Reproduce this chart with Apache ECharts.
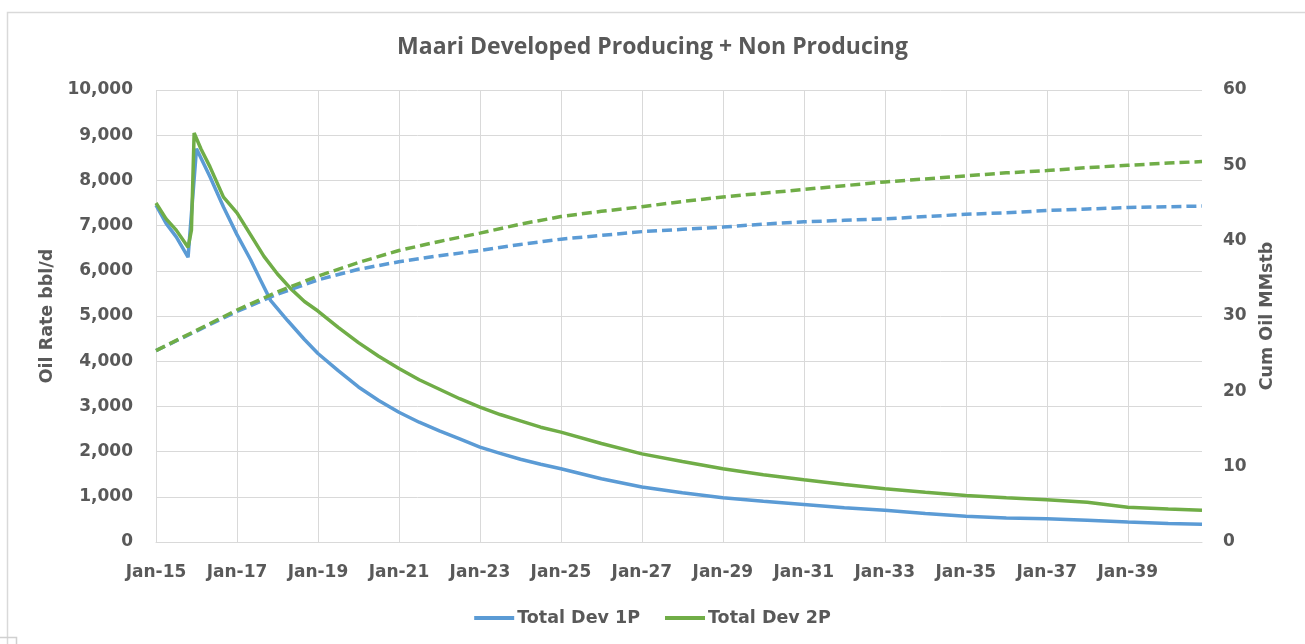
<!DOCTYPE html>
<html>
<head>
<meta charset="utf-8">
<script src="https://cdn.jsdelivr.net/npm/echarts@6/dist/echarts.min.js"></script>
<style>
html,body{margin:0;padding:0;background:#fff;}
#chart{width:1305px;height:644px;}
</style>
</head>
<body>
<div id="chart"></div>
<script>
// months since Jan-2015
const xTickLabels = ['Jan-15','Jan-17','Jan-19','Jan-21','Jan-23','Jan-25','Jan-27','Jan-29','Jan-31','Jan-33','Jan-35','Jan-37','Jan-39'];
const yLeftMax = 10000, yRightMax = 60;

const rate1PMonths = [0,3,6,9.5,12,16,20,24,28,31,34,39,44,48,54,60,66,72,78,84,90,96,102,108,114,120,132,144,156,168,180,192,204,216,228,240,252,264,276,288,300,310];
const rate1P =       [7450,7050,6750,6300,8700,8080,7410,6800,6250,5790,5340,4900,4480,4170,3790,3430,3130,2870,2650,2460,2280,2100,1960,1830,1720,1620,1400,1215,1090,980,900,830,760,700,630,570,530,515,480,440,410,390];

const rate2PMonths = [0,3,6,9.5,10.5,11.3,13.3,16,20,24,28,32,36,40,44,48,54,60,66,72,78,84,90,96,102,108,114,120,132,144,156,168,180,192,204,216,228,240,252,264,276,288,300,310];
const rate2P =       [7500,7150,6900,6520,6900,9050,8700,8300,7630,7280,6800,6320,5930,5600,5320,5110,4750,4410,4110,3840,3590,3380,3170,2985,2820,2680,2540,2430,2180,1950,1780,1620,1490,1375,1270,1180,1100,1030,980,935,880,770,730,700];

const cumMonths = [0,12,24,36,48,60,72,84,96,108,120,132,144,156,168,180,192,204,216,228,240,252,264,276,288,300,310];
const cum1P = [25.4,28.0,30.6,32.9,34.8,36.2,37.2,38.0,38.7,39.5,40.2,40.7,41.2,41.5,41.8,42.2,42.5,42.7,42.9,43.2,43.5,43.7,44.0,44.2,44.4,44.5,44.6];
const cum2P = [25.4,28.1,30.8,33.2,35.3,37.1,38.7,39.9,41.0,42.2,43.2,43.9,44.5,45.2,45.8,46.3,46.8,47.3,47.8,48.2,48.6,49.0,49.3,49.7,50.0,50.3,50.5];

const zip = (xs, ys) => xs.map((x, i) => [x, ys[i]]);

const BLUE = '#5b9bd5', GREEN = '#70ad47', TXT = '#595959', GRID = '#d9d9d9';
const FONT = 'DejaVu Sans';

const chart = echarts.init(document.getElementById('chart'), null, {renderer: 'canvas'});
chart.setOption({
  animation: false,
  backgroundColor: '#fff',
  title: {
    text: 'Maari Developed Producing + Non Producing',
    left: 'center', top: 31,
    textStyle: {fontFamily: 'Open Sans', fontSize: 23, fontWeight: 'bold', color: TXT}
  },
  legend: {
    bottom: 12, left: 'center',
    data: ['Total Dev 1P', 'Total Dev 2P'],
    icon: 'rect', itemWidth: 40, itemHeight: 4, itemGap: 25,
    textStyle: {fontFamily: FONT, fontSize: 17.5, fontWeight: 'bold', color: TXT, padding: [0,0,0,-2]}
  },
  grid: {left: 156, right: 103, top: 90, bottom: 102, containLabel: false},
  xAxis: {
    type: 'value', min: 0, max: 310, interval: 24,
    axisLine: {show: true, lineStyle: {color: GRID, width: 1}},
    axisTick: {show: false},
    axisLabel: {
      margin: 22, fontFamily: FONT, fontSize: 17, fontWeight: 'bold', color: TXT,
      showMaxLabel: false,
      formatter: v => (v % 24 === 0 ? (xTickLabels[v / 24] || '') : '')
    },
    splitLine: {show: true, showMaxLine: false, lineStyle: {color: GRID, width: 1}}
  },
  yAxis: [{
    type: 'value', min: 0, max: yLeftMax, interval: 1000,
    name: 'Oil Rate bbl/d', nameLocation: 'middle', nameGap: 100, nameRotate: 90,
    nameTextStyle: {fontFamily: FONT, fontSize: 17.5, fontWeight: 'bold', color: TXT},
    axisLine: {show: false}, axisTick: {show: false},
    axisLabel: {margin: 23, fontFamily: FONT, fontSize: 17, fontWeight: 'bold', color: TXT,
      formatter: v => v.toLocaleString('en-US')},
    splitLine: {show: true, lineStyle: {color: GRID, width: 1}}
  }, {
    type: 'value', min: 0, max: yRightMax, interval: 10, position: 'right',
    name: 'Cum Oil MMstb', nameLocation: 'middle', nameGap: 56, nameRotate: 90,
    nameTextStyle: {fontFamily: FONT, fontSize: 17.5, fontWeight: 'bold', color: TXT},
    axisLine: {show: false}, axisTick: {show: false},
    axisLabel: {margin: 21, fontFamily: FONT, fontSize: 17, fontWeight: 'bold', color: TXT},
    splitLine: {show: false}
  }],
  series: [
    {name: 'Total Dev 1P', type: 'line', yAxisIndex: 0, showSymbol: false, color: BLUE,
     lineStyle: {color: BLUE, width: 3.5}, data: zip(rate1PMonths, rate1P)},
    {name: 'Total Dev 2P', type: 'line', yAxisIndex: 0, showSymbol: false, color: GREEN,
     lineStyle: {color: GREEN, width: 3.5}, data: zip(rate2PMonths, rate2P)},
    {name: 'Total Dev 1P', type: 'line', yAxisIndex: 1, showSymbol: false, color: BLUE,
     lineStyle: {color: BLUE, width: 3.5, type: [10, 5]}, data: zip(cumMonths, cum1P)},
    {name: 'Total Dev 2P', type: 'line', yAxisIndex: 1, showSymbol: false, color: GREEN,
     lineStyle: {color: GREEN, width: 3.5, type: [10, 5]}, data: zip(cumMonths, cum2P)}
  ],
  graphic: [
    {type: 'polyline', silent: true, shape: {points: [[7.5, 644], [7.5, 12.5], [1305, 12.5]]},
     style: {stroke: '#d9d9d9', lineWidth: 1.5, fill: null}},
    {type: 'polyline', silent: true, shape: {points: [[0, 637.5], [16.5, 637.5], [16.5, 644]]},
     style: {stroke: '#d0d0d0', lineWidth: 1.5, fill: null}}
  ]
});
</script>
</body>
</html>
